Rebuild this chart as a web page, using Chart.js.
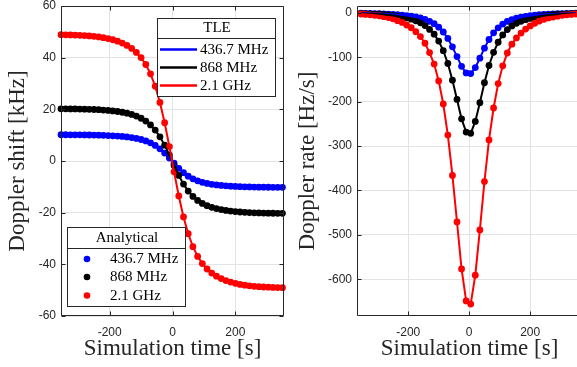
<!DOCTYPE html>
<html><head><meta charset="utf-8">
<script src="https://cdn.jsdelivr.net/npm/chart.js@4.4.1/dist/chart.umd.min.js"></script>
<style>
html,body{margin:0;padding:0;background:#fff;overflow:hidden;width:577px;height:367px;position:relative;}
canvas{position:absolute;top:0;}
#c1{left:0;} #c2{left:290px;}
</style></head><body>
<canvas id="c1" width="290" height="367"></canvas>
<canvas id="c2" width="300" height="367"></canvas>
<script>
// ---------- data ----------
const bandLabels = ['436.7 MHz', '868 MHz', '2.1 GHz'];
const bandColors = ['#0000ff', '#000000', '#ff0000'];
const timeS = [-355,-340,-325,-310,-295,-280,-265,-250,-235,-220,-205,-190,-175,-160,-145,-130,-115,-100,-85,-70,-55,-40,-25,-10,
  5,20,35,50,65,80,95,110,125,140,155,170,185,200,215,230,245,260,275,290,305,320,335,350];

// Doppler shift [kHz]
const shift436 = [10.17,10.16,10.15,10.14,10.12,10.10,10.07,10.03,9.99,9.93,9.85,9.76,9.64,9.50,9.31,9.06,8.74,8.32,7.77,7.02,6.02,4.71,3.08,1.16,
  -0.87,-2.82,-4.50,-5.86,-6.90,-7.68,-8.26,-8.69,-9.02,-9.27,-9.46,-9.62,-9.75,-9.85,-9.93,-10.00,-10.05,-10.09,-10.12,-10.14,-10.16,-10.18,-10.19,-10.19];
const shift868 = [20.21,20.19,20.17,20.14,20.11,20.07,20.01,19.94,19.85,19.73,19.58,19.40,19.16,18.87,18.50,18.01,17.38,16.54,15.44,13.95,11.96,9.37,6.12,2.31,
  -1.74,-5.60,-8.95,-11.64,-13.71,-15.26,-16.42,-17.28,-17.92,-18.42,-18.81,-19.12,-19.38,-19.58,-19.74,-19.87,-19.97,-20.05,-20.11,-20.16,-20.19,-20.22,-20.24,-20.26];
const shift2100 = [48.90,48.86,48.81,48.74,48.66,48.56,48.42,48.25,48.03,47.74,47.38,46.93,46.37,45.66,44.75,43.57,42.04,40.03,37.35,33.75,28.94,22.66,14.80,5.60,
  -4.20,-13.55,-21.65,-28.17,-33.17,-36.92,-39.72,-41.80,-43.37,-44.57,-45.51,-46.27,-46.88,-47.37,-47.76,-48.07,-48.31,-48.50,-48.65,-48.77,-48.86,-48.93,-48.98,-49.02];

// Doppler rate [Hz/s]
const rate436 = [-0.4,-0.6,-0.8,-1.0,-1.2,-1.7,-2.1,-2.7,-3.5,-4.4,-5.6,-6.9,-8.7,-11.0,-14.1,-18.5,-23.9,-31.8,-42.6,-57.2,-76.1,-98.0,-120.0,-135.0,
  -136.4,-122.9,-101.7,-79.0,-59.5,-44.5,-33.1,-24.8,-18.7,-14.6,-11.6,-9.4,-7.5,-6.0,-4.8,-3.7,-2.9,-2.3,-1.9,-1.5,-1.0,-0.8,-0.6,-0.4];
const rate868 = [-0.8,-1.2,-1.7,-2.1,-2.5,-3.3,-4.1,-5.4,-7.0,-8.7,-11.2,-13.6,-17.4,-21.9,-28.1,-36.8,-47.5,-63.2,-84.7,-113.7,-151.3,-194.7,-238.5,-268.2,
  -271.1,-244.3,-202.1,-157.1,-118.2,-88.4,-65.7,-49.2,-37.2,-28.9,-23.1,-18.6,-14.9,-12.0,-9.5,-7.4,-5.8,-4.5,-3.7,-2.9,-2.1,-1.7,-1.2,-0.8];
const rate2100 = [-2,-3,-4,-5,-6,-8,-10,-13,-17,-21,-27,-33,-42,-53,-68,-89,-115,-153,-205,-275,-366,-471,-577,-649,
  -656,-591,-489,-380,-286,-214,-159,-119,-90,-70,-56,-45,-36,-29,-23,-18,-14,-11,-9,-7,-5,-4,-3,-2];

const shiftTicks = [-60,-40,-20,0,20,40,60];
const rateTicks = [-600,-500,-400,-300,-200,-100,0];
const timeTicks = [-200,0,200];

// ---------- helpers ----------
const AX = '#262626';
function pts(ys){ return timeS.map((t,i)=>({x:t,y:ys[i]})); }
function buildDatasets(series){
  const ds = [];
  series.forEach((ys,i)=>{ // analytical dots
    ds.push({label: bandLabels[i], group:'Analytical', data: pts(ys), showLine:false,
      pointRadius:3.4, pointHoverRadius:3.4, pointBackgroundColor:bandColors[i], pointBorderWidth:0,
      borderColor:bandColors[i], backgroundColor:bandColors[i], order: 6-i, clip:5});
  });
  series.forEach((ys,i)=>{ // TLE lines
    ds.push({label: bandLabels[i], group:'TLE', data: pts(ys), showLine:true, tension:0,
      pointRadius:0, borderWidth:2, borderColor:bandColors[i], backgroundColor:bandColors[i], order: 3-i, clip:2});
  });
  return ds;
}

const matlabAxes = {
  id:'matlabAxes',
  afterDraw(chart){
    const {ctx, chartArea:a, scales:{x,y}} = chart;
    ctx.save();
    ctx.strokeStyle = AX; ctx.lineWidth = 1;
    const L = Math.round(a.left)+0.5, R = Math.round(a.right)-0.5, T = Math.round(a.top)+0.5, B = Math.round(a.bottom)-0.5;
    ctx.beginPath();
    x.ticks.forEach(t=>{ const p = Math.round(x.getPixelForValue(t.value))+0.5; ctx.moveTo(p,B); ctx.lineTo(p,B-4); ctx.moveTo(p,T); ctx.lineTo(p,T+4); });
    y.ticks.forEach(t=>{ const p = Math.round(y.getPixelForValue(t.value))+0.5; ctx.moveTo(L,p); ctx.lineTo(L+4,p); ctx.moveTo(R,p); ctx.lineTo(R-4,p); });
    ctx.rect(L,T,R-L,B-T);
    ctx.stroke();
    const boxes = (chart.options.plugins.boxLegends||{}).boxes || [];
    boxes.forEach(b=>{
      ctx.fillStyle='#fff'; ctx.fillRect(b.x,b.y,b.w,b.h);
      ctx.strokeStyle=AX; ctx.lineWidth=1;
      ctx.strokeRect(b.x+0.5,b.y+0.5,b.w,b.h);
      ctx.beginPath(); ctx.moveTo(b.x,b.sep+0.5); ctx.lineTo(b.x+b.w+1,b.sep+0.5); ctx.stroke();
      ctx.font='15px "Liberation Serif"'; ctx.textBaseline='middle';
      ctx.fillStyle='#000'; ctx.textAlign='center';
      ctx.fillText(b.title, b.x+b.w/2+1, b.titleY);
      const items = chart.data.datasets.filter(d=>d.group===b.group);
      items.forEach((d,i)=>{
        const ry = b.rowY[i];
        if (b.kind==='line'){
          ctx.strokeStyle=d.borderColor; ctx.lineWidth=2.5;
          ctx.beginPath(); ctx.moveTo(b.symX0,ry); ctx.lineTo(b.symX1,ry); ctx.stroke();
        } else {
          ctx.fillStyle=d.pointBackgroundColor;
          ctx.beginPath(); ctx.arc(b.symX,ry,3.3,0,Math.PI*2); ctx.fill();
        }
        ctx.fillStyle='#000'; ctx.textAlign='left';
        ctx.fillText(d.label, b.textX, ry+0.5);
      });
    });
    ctx.restore();
  }
};

function zeroPad(s){ s.paddingTop = 0; s.paddingBottom = 0; s.paddingLeft = 0; s.paddingRight = 0; }

function makeChart(id, series, cfg){
  return new Chart(document.getElementById(id), {
    type:'line',
    data:{datasets: buildDatasets(series)},
    plugins:[matlabAxes],
    options:{
      responsive:false, animation:false, devicePixelRatio:1,
      events:[],
      layout:{padding:{top:cfg.padTop,right:cfg.padRight,bottom:0,left:0}},
      plugins:{legend:{display:false}, tooltip:{enabled:false}, boxLegends:{boxes:cfg.boxes||[]}},
      scales:{
        x:{type:'linear', min:cfg.xmin, max:cfg.xmax,
          afterBuildTicks(s){ s.ticks = timeTicks.map(v=>({value:v})); },
          afterFit(s){ s.height = 51; zeroPad(s); },
          grid:{color:'#e3e3e3', lineWidth:1, drawTicks:false},
          border:{display:false},
          ticks:{padding:9, color:AX, font:{family:'Liberation Sans', size:12}, maxRotation:0},
          title:{display:true, text:'Simulation time [s]', color:AX, padding:{top:0,bottom:4},
            font:{family:'Liberation Serif', size:23, lineHeight:1.2}}
        },
        y:{type:'linear', min:cfg.ymin, max:cfg.ymax,
          afterBuildTicks(s){ s.ticks = cfg.yTicks.map(v=>({value:v})); },
          afterFit(s){ s.width = cfg.yWidth; zeroPad(s); },
          grid:{color:'#e3e3e3', lineWidth:1, drawTicks:false},
          border:{display:false},
          ticks:{padding:5, color:AX, font:{family:'Liberation Sans', size:12}},
          title:{display:true, text:cfg.yTitle, color:AX, padding:{top:4.5,bottom:0},
            font:{family:'Liberation Serif', size:23, lineHeight:1.2}}
        }
      }
    }
  });
}

function draw(){
  makeChart('c1', [shift436, shift868, shift2100], {
    xmin:-355, xmax:355, ymin:-60, ymax:60, yTicks:shiftTicks, yWidth:61, padRight:6, padTop:6,
    yTitle:'Doppler shift [kHz]',
    boxes:[
      {group:'TLE', kind:'line', title:'TLE', x:157, y:18, w:118, h:78, sep:38, titleY:28,
        rowY:[49.5,67.5,85.5], symX0:160, symX1:197, textX:200},
      {group:'Analytical', kind:'dot', title:'Analytical', x:67, y:227, w:118, h:79, sep:248, titleY:238,
        rowY:[259,277,295.5], symX:87, textX:110}
    ]
  });
  makeChart('c2', [rate436, rate868, rate2100], {
    xmin:-368, xmax:370, ymin:-683, ymax:16, yTicks:rateTicks, yWidth:67, padRight:8, padTop:6,
    yTitle:'Doppler rate [Hz/s]'
  });
}
if (document.fonts && document.fonts.load) {
  Promise.all([document.fonts.load('15px "Liberation Serif"'), document.fonts.load('12px "Liberation Sans"')])
    .then(draw, draw);
} else draw();
</script>
</body></html>
